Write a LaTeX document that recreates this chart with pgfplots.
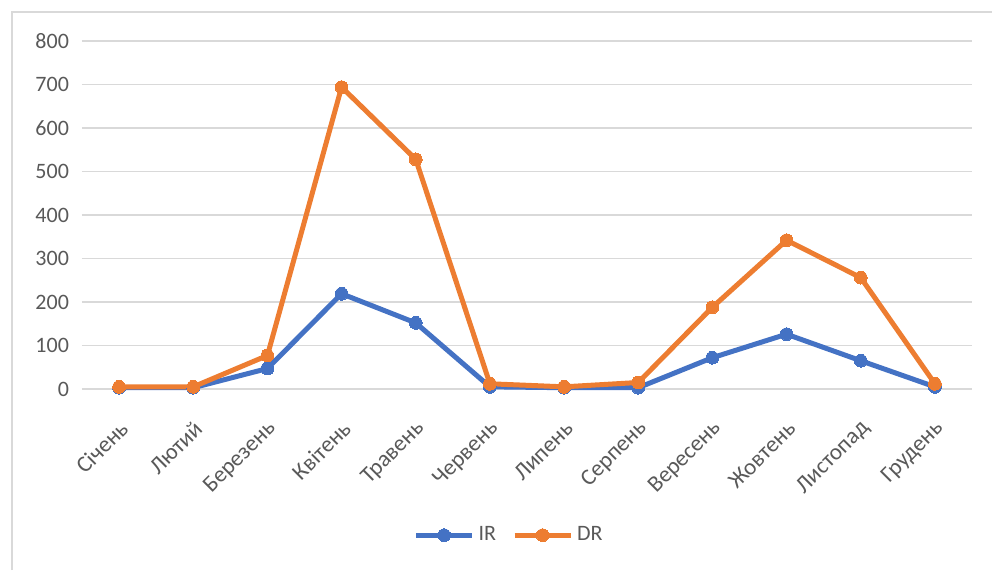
\documentclass[border=0pt]{standalone}
\usepackage{pgfplots}
\pgfplotsset{compat=1.18}
\usepackage{fontspec}
\setmainfont{Carlito}
\definecolor{irblue}{RGB}{68,114,196}
\definecolor{drorange}{RGB}{237,125,49}
\definecolor{txtgray}{RGB}{89,89,89}
\definecolor{gridgray}{RGB}{217,217,217}
\begin{document}
\begin{tikzpicture}
\useasboundingbox (0,0) rectangle (496pt,285pt);
\draw[gridgray, line width=1pt] (6pt,0) -- (6pt,279pt) -- (496pt,279pt);
\begin{axis}[
  at={(41pt,90.5pt)}, anchor=south west,
  scale only axis, width=445pt, height=174pt,
  xmin=-0.5, xmax=11.5, ymin=0, ymax=800,
  ytick={0,100,...,800},
  xtick={0,...,11},
  xticklabels={Січень,Лютий,Березень,Квітень,Травень,Червень,Липень,Серпень,Вересень,Жовтень,Листопад,Грудень},
  axis line style={draw=none},
  major tick length=0pt,
  ymajorgrids,
  grid style={gridgray, line width=0.9pt},
  tick label style={font=\fontsize{11}{13}\selectfont, text=txtgray},
  /pgf/number format/assume math mode=true,
  yticklabel style={xshift=-3pt},
  xticklabel style={xshift=5pt, yshift=-15.5pt, rotate=45, anchor=east, font=\fontsize{11.5}{13}\selectfont},
  clip=false,
  legend columns=2,
  legend style={draw=none, fill=none, at={(0.481,-0.42)}, anchor=center,
    font=\fontsize{11}{13}\selectfont, text=txtgray,
    /tikz/every even column/.append style={column sep=6pt}},
  legend image code/.code={\draw[mark repeat=2, mark phase=2] plot coordinates {(0pt,0pt) (14pt,0pt) (28pt,0pt)};},
]
\addplot[irblue, line width=2.5pt, mark=*, mark size=3.2pt, mark options={solid, fill=irblue, draw=irblue, line width=0pt}]
coordinates {(0,3) (1,3) (2,47) (3,219) (4,152) (5,5) (6,3) (7,3) (8,72) (9,126) (10,65) (11,5)};
\addlegendentry{IR}
\addplot[drorange, line width=2.5pt, mark=*, mark size=3.2pt, mark options={solid, fill=drorange, draw=drorange, line width=0pt}]
coordinates {(0,5) (1,5) (2,77) (3,694) (4,528) (5,12) (6,5) (7,15) (8,188) (9,342) (10,256) (11,12)};
\addlegendentry{DR}
\end{axis}
\end{tikzpicture}
\end{document}
